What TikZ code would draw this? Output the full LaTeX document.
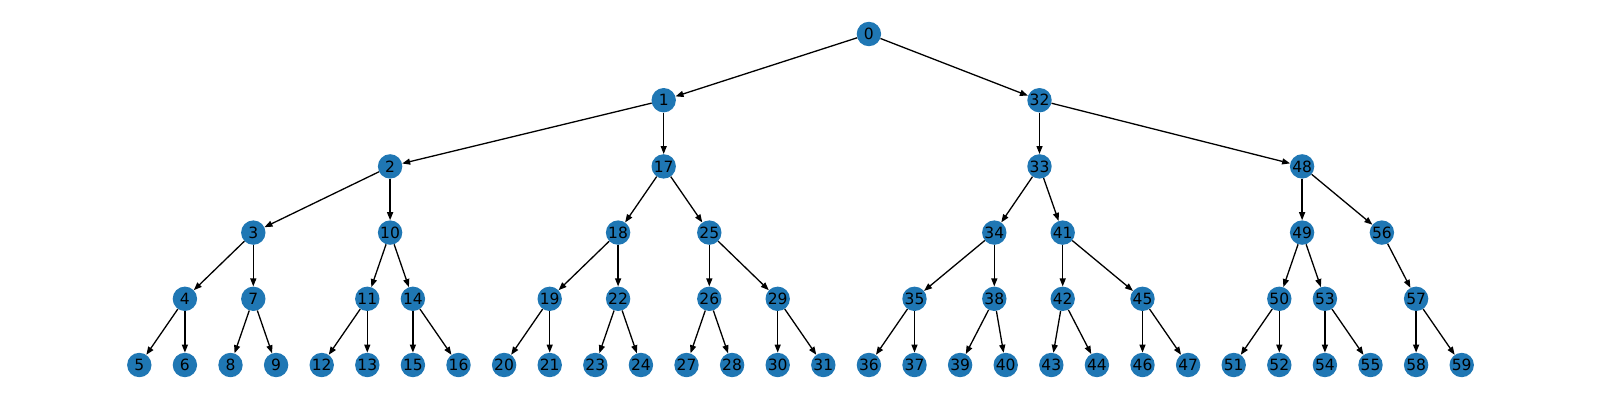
\documentclass[tikz,border=0pt]{standalone}
\usepackage{fontspec}
\setmainfont{DejaVu Sans}
\usetikzlibrary{arrows.meta}
\definecolor{nxblue}{RGB}{31,119,180}
\tikzset{
  nd/.style={circle, fill=nxblue, draw=none, minimum size=24.4pt, inner sep=0pt,
             font=\fontsize{15.5}{16}\selectfont, text=black},
  ed/.style={-{Triangle[length=8pt,width=6pt]}, line width=1.3pt, black}
}
\begin{document}
\begin{tikzpicture}[x=1pt,y=-1pt]
\useasboundingbox (0,0) rectangle (1600,400);
% level 0
\node[nd] (n0) at (868.9,34) {0};
% level 1
\node[nd] (n1) at (663.7,100.2) {1};
\node[nd] (n32) at (1039.5,100.2) {32};
% level 2
\node[nd] (n2) at (390.1,166.4) {2};
\node[nd] (n17) at (663.7,166.4) {17};
\node[nd] (n33) at (1039.5,166.4) {33};
\node[nd] (n48) at (1302.1,166.4) {48};
% level 3
\node[nd] (n3) at (253.3,232.6) {3};
\node[nd] (n10) at (390.1,232.6) {10};
\node[nd] (n18) at (618.1,232.6) {18};
\node[nd] (n25) at (709.3,232.6) {25};
\node[nd] (n34) at (994.3,232.6) {34};
\node[nd] (n41) at (1062.7,232.6) {41};
\node[nd] (n49) at (1302.1,232.6) {49};
\node[nd] (n56) at (1381.9,232.6) {56};
% level 4
\node[nd] (n4) at (184.9,298.8) {4};
\node[nd] (n7) at (253.3,298.8) {7};
\node[nd] (n11) at (367.3,298.8) {11};
\node[nd] (n14) at (412.9,298.8) {14};
\node[nd] (n19) at (549.7,298.8) {19};
\node[nd] (n22) at (618.1,298.8) {22};
\node[nd] (n26) at (709.3,298.8) {26};
\node[nd] (n29) at (777.7,298.8) {29};
\node[nd] (n35) at (914.5,298.8) {35};
\node[nd] (n38) at (994.3,298.8) {38};
\node[nd] (n42) at (1062.7,298.8) {42};
\node[nd] (n45) at (1142.5,298.8) {45};
\node[nd] (n50) at (1279.3,298.8) {50};
\node[nd] (n53) at (1324.9,298.8) {53};
\node[nd] (n57) at (1416.1,298.8) {57};
% level 5 (leaves)
\node[nd] (n5) at (139.3,365) {5};
\node[nd] (n6) at (184.9,365) {6};
\node[nd] (n8) at (230.5,365) {8};
\node[nd] (n9) at (276.1,365) {9};
\node[nd] (n12) at (321.7,365) {12};
\node[nd] (n13) at (367.3,365) {13};
\node[nd] (n15) at (412.9,365) {15};
\node[nd] (n16) at (458.5,365) {16};
\node[nd] (n20) at (504.1,365) {20};
\node[nd] (n21) at (549.7,365) {21};
\node[nd] (n23) at (595.3,365) {23};
\node[nd] (n24) at (640.9,365) {24};
\node[nd] (n27) at (686.5,365) {27};
\node[nd] (n28) at (732.1,365) {28};
\node[nd] (n30) at (777.7,365) {30};
\node[nd] (n31) at (823.3,365) {31};
\node[nd] (n36) at (868.9,365) {36};
\node[nd] (n37) at (914.5,365) {37};
\node[nd] (n39) at (960.1,365) {39};
\node[nd] (n40) at (1005.7,365) {40};
\node[nd] (n43) at (1051.3,365) {43};
\node[nd] (n44) at (1096.9,365) {44};
\node[nd] (n46) at (1142.5,365) {46};
\node[nd] (n47) at (1188.1,365) {47};
\node[nd] (n51) at (1233.7,365) {51};
\node[nd] (n52) at (1279.3,365) {52};
\node[nd] (n54) at (1324.9,365) {54};
\node[nd] (n55) at (1370.5,365) {55};
\node[nd] (n58) at (1416.1,365) {58};
\node[nd] (n59) at (1461.7,365) {59};
% edges
\foreach \a/\b in {0/1,0/32,1/2,1/17,2/3,2/10,3/4,3/7,4/5,4/6,7/8,7/9,
  10/11,10/14,11/12,11/13,14/15,14/16,17/18,17/25,18/19,18/22,19/20,19/21,
  22/23,22/24,25/26,25/29,26/27,26/28,29/30,29/31,32/33,32/48,33/34,33/41,
  34/35,34/38,35/36,35/37,38/39,38/40,41/42,41/45,42/43,42/44,45/46,45/47,
  48/49,48/56,49/50,49/53,50/51,50/52,53/54,53/55,56/57,57/58,57/59}
  \draw[ed] (n\a) -- (n\b);
\end{tikzpicture}
\end{document}
